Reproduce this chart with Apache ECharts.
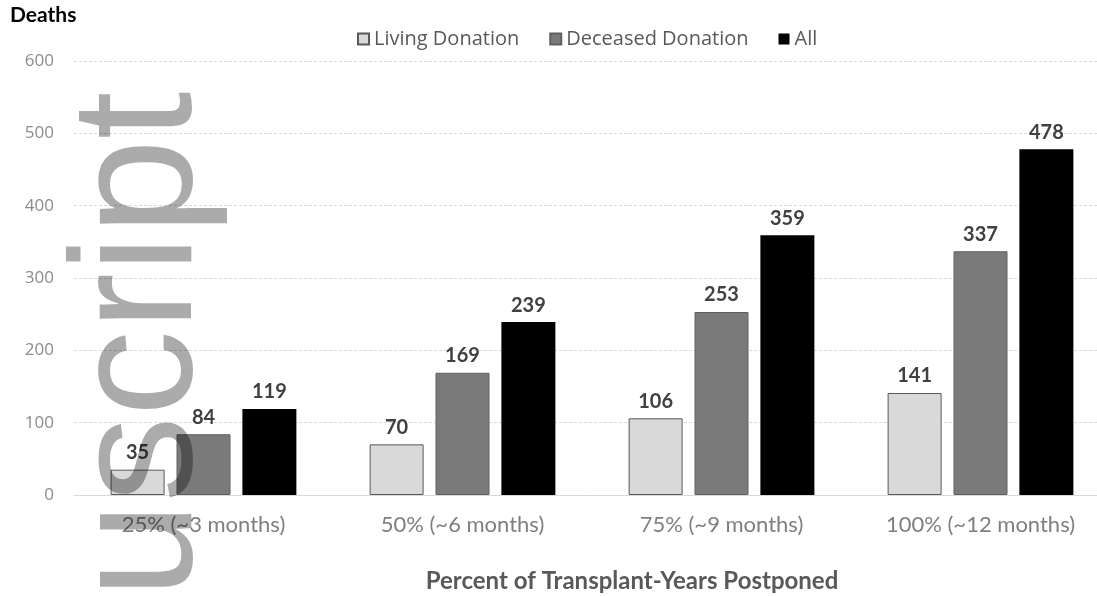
<!DOCTYPE html>
<html>
<head>
<meta charset="utf-8">
<script src="https://cdn.jsdelivr.net/npm/echarts@6/dist/echarts.min.js"></script>
<style>
  html, body { margin: 0; padding: 0; background: #fff; }
  #chart { width: 1097px; height: 596px; }
</style>
</head>
<body>
<div id="chart"></div>
<script>
// categories and values
const categories = ['25% (~3 months)', '50% (~6 months)', '75% (~9 months)', '100% (~12 months)']
const livingDonation = [35, 70, 106, 141]
const deceasedDonation = [84, 169, 253, 337]
const allDonation = [119, 239, 359, 478]
const yTicks = [0, 100, 200, 300, 400, 500, 600]

const font = 'Lato, "Open Sans", sans-serif'

const chart = echarts.init(document.getElementById('chart'))

const label = {
    show: true,
    position: 'top',
    distance: 7,
    color: '#404040',
    fontWeight: 'bold',
    fontSize: 20,
    fontFamily: font
}

chart.setOption({
    animation: false,
    legend: {
        top: 24,
        left: 352,
        icon: 'rect',
        itemWidth: 11,
        itemHeight: 11,
        itemGap: 30,
        textStyle: { color: '#595959', fontSize: 20, fontFamily: '"Open Sans", sans-serif' },
        data: ['Living Donation', 'Deceased Donation', 'All']
    },
    // the category band runs a little past the drawn gridlines in the source
    grid: { left: 74, right: -13, top: 61, bottom: 101, outerBoundsMode: 'none' },
    xAxis: {
        type: 'category',
        data: categories,
        axisLine: { lineStyle: { color: '#d9d9d9' } },
        axisTick: { show: false },
        axisLabel: { color: '#7f7f7f', fontSize: 22, fontFamily: font, margin: 19 }
    },
    yAxis: {
        type: 'value',
        min: yTicks[0],
        max: yTicks[yTicks.length - 1],
        interval: 100,
        axisLine: { show: false },
        axisTick: { show: false },
        axisLabel: { color: '#8c8c8c', fontSize: 17, fontFamily: '"Open Sans", sans-serif', margin: 20 },
        splitLine: { lineStyle: { color: '#d9d9d9', type: [3, 2] } }
    },
    series: [
        {
            name: 'Living Donation',
            type: 'bar',
            barWidth: 54,
            barGap: '22%',
            data: livingDonation,
            itemStyle: { color: '#d9d9d9', borderColor: '#595959', borderWidth: 1 },
            label: label
        },
        {
            name: 'Deceased Donation',
            type: 'bar',
            barWidth: 54,
            data: deceasedDonation,
            itemStyle: { color: '#7a7a7a', borderColor: '#606060', borderWidth: 1 },
            label: label
        },
        {
            name: 'All',
            type: 'bar',
            barWidth: 54,
            data: allDonation,
            itemStyle: { color: '#000000' },
            label: label
        }
    ],
    graphic: [
        {
            type: 'text',
            left: 10,
            top: 5,
            style: { text: 'Deaths', font: 'bold 21px ' + font, fill: '#000' }
        },
        {
            type: 'text',
            x: 632,
            y: 581,
            style: {
                text: 'Percent of Transplant-Years Postponed',
                font: 'bold 24px ' + font,
                fill: '#595959',
                textAlign: 'center',
                textVerticalAlign: 'middle'
            }
        },
        {
            // watermark from the source page
            type: 'text',
            x: 144,
            y: 598,
            rotation: Math.PI / 2,
            z: 100,
            silent: true,
            style: {
                text: 'uscript',
                font: '172px "Liberation Sans", Arial, sans-serif',
                fill: 'rgba(0,0,0,0.33)',
                textAlign: 'left',
                textVerticalAlign: 'middle'
            }
        }
    ]
})
</script>
</body>
</html>
